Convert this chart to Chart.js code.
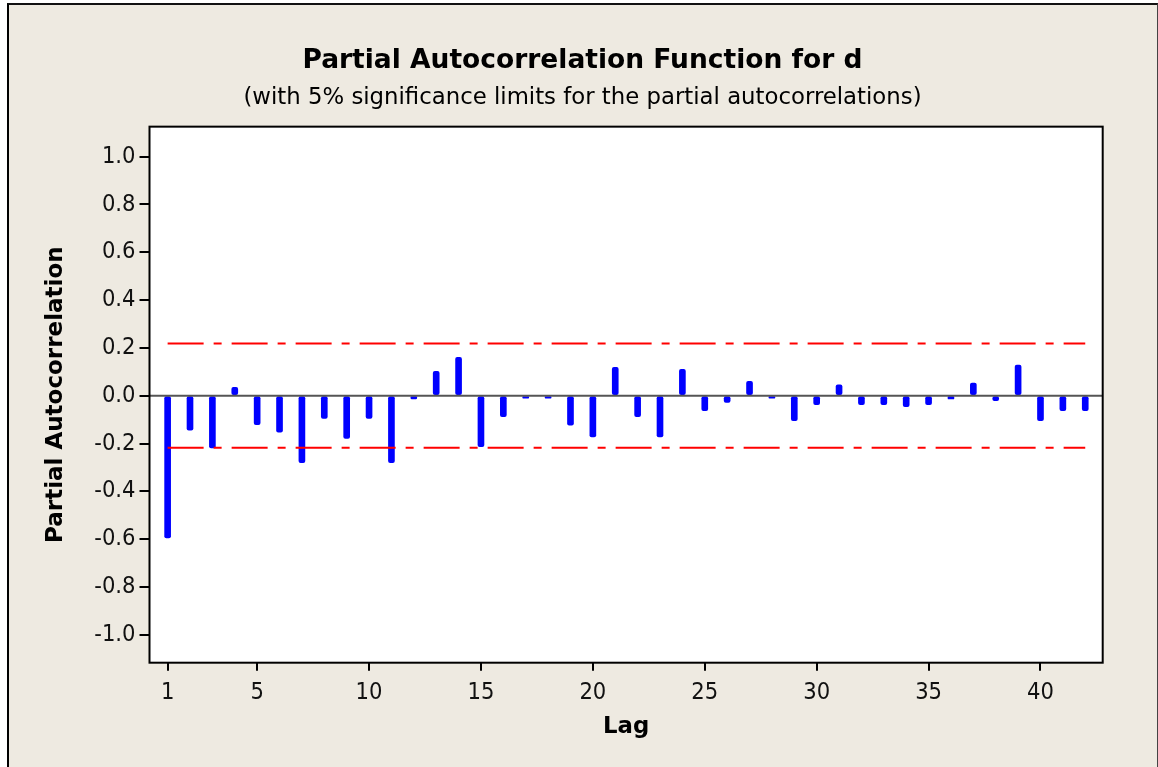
<!DOCTYPE html>
<html><head><meta charset="utf-8">
<script src="https://cdn.jsdelivr.net/npm/chart.js@4/dist/chart.umd.min.js"></script>
<style>
html,body{margin:0;padding:0;background:#fff;overflow:hidden;width:1158px;height:767px}
#frame{position:absolute;left:7px;top:3px;width:1151px;height:800px;background:#EEEAE1;border-left:2px solid #000;border-top:2px solid #111;border-right:1px solid #444;box-sizing:border-box}
#wrap{position:absolute;left:0;top:0;width:1158px;height:767px}
</style></head><body>
<div id="frame"></div>
<div id="wrap"><canvas id="c" width="1158" height="767"></canvas></div>
<script>
// ---- data ----
const lags = [1,2,3,4,5,6,7,8,9,10,11,12,13,14,15,16,17,18,19,20,21,
              22,23,24,25,26,27,28,29,30,31,32,33,34,35,36,37,38,39,40,41,42];
const pacf = [-0.595,-0.144,-0.219,0.035,-0.121,-0.153,-0.280,-0.095,-0.179,-0.095,-0.280,
              -0.013,0.102,0.160,-0.213,-0.088,-0.010,-0.010,-0.123,-0.172,0.119,
              -0.088,-0.172,0.110,-0.063,-0.028,0.060,-0.010,-0.105,-0.038,0.045,
              -0.038,-0.038,-0.046,-0.038,-0.014,0.053,-0.021,0.128,-0.105,-0.063,-0.063];
const sigLimit = 0.218;
const yTickValues = [-1.0,-0.8,-0.6,-0.4,-0.2,0.0,0.2,0.4,0.6,0.8,1.0];
const xTickValues = [1,5,10,15,20,25,30,35,40];
const titleText = "Partial Autocorrelation Function for d";
const subtitleText = "(with 5% significance limits for the partial autocorrelations)";
const xAxisTitle = "Lag";
const yAxisTitle = "Partial Autocorrelation";

const FONT = '"DejaVu Sans", sans-serif';
const TICKFONT = '"DejaVu Sans Condensed", "DejaVu Sans", sans-serif';
const firstLag = lags[0], lastLag = lags[lags.length-1];

const plotDecor = {
  id: 'plotDecor',
  beforeDatasetsDraw(chart) {
    const {ctx, chartArea: a} = chart;
    ctx.save();
    ctx.fillStyle = '#ffffff';
    ctx.fillRect(a.left, a.top, a.right - a.left, a.bottom - a.top);
    ctx.restore();
  },
  afterDatasetsDraw(chart) {
    const {ctx, chartArea: a, scales} = chart;
    const y0 = scales.y.getPixelForValue(0);
    ctx.save();
    ctx.strokeStyle = '#555555';
    ctx.lineWidth = 2;
    ctx.beginPath();
    ctx.moveTo(a.left, y0); ctx.lineTo(a.right, y0);
    ctx.stroke();
    ctx.strokeStyle = '#000';
    ctx.lineWidth = 2;
    ctx.strokeRect(a.left, a.top, a.right - a.left, a.bottom - a.top);
    ctx.restore();
  }
};

new Chart(document.getElementById('c'), {
  data: {
    datasets: [
      {
        type: 'bar',
        data: lags.map((l, i) => ({x: l, y: pacf[i]})),
        backgroundColor: '#0000ff',
        barThickness: 6,
        borderRadius: 2,
        borderSkipped: false,
        order: 2
      },
      {
        type: 'line',
        data: [{x: firstLag, y: sigLimit}, {x: lastLag, y: sigLimit}],
        borderColor: '#ff0000',
        borderWidth: 2,
        borderDash: [36, 10, 8, 10],
        pointRadius: 0,
        order: 1
      },
      {
        type: 'line',
        data: [{x: firstLag, y: -sigLimit}, {x: lastLag, y: -sigLimit}],
        borderColor: '#ff0000',
        borderWidth: 2,
        borderDash: [36, 10, 8, 10],
        pointRadius: 0,
        order: 1
      }
    ]
  },
  options: {
    responsive: false,
    animation: false,
    devicePixelRatio: 1,
    layout: {padding: {left: 7, right: 0, top: 3, bottom: 0}},
    plugins: {
      legend: {display: false},
      tooltip: {enabled: false},
      title: {
        display: true, text: titleText, color: '#000',
        font: {family: FONT, size: 26.5, weight: 'bold'},
        padding: {top: 42.2, bottom: 2}
      },
      subtitle: {
        display: true, text: subtitleText, color: '#000',
        font: {family: FONT, size: 22.8},
        padding: {top: 5.7, bottom: 14.6}
      }
    },
    scales: {
      x: {
        type: 'linear', min: 0.19, max: 42.78, offset: false,
        afterBuildTicks: s => { s.ticks = xTickValues.map(v => ({value: v})); },
        afterFit: s => { s.height = 104.3; },
        grid: {offset: false, drawOnChartArea: false, drawTicks: true, tickLength: 8, color: '#000', lineWidth: 2},
        border: {display: false},
        ticks: {color: '#111', font: {family: TICKFONT, size: 23.5}, padding: 8, maxRotation: 0, autoSkip: false},
        title: {display: true, text: xAxisTitle, color: '#000', font: {family: FONT, size: 22.8, weight: 'bold'}, padding: {top: 0, bottom: 26}}
      },
      y: {
        type: 'linear', min: -1.117, max: 1.1255,
        afterBuildTicks: s => { s.ticks = yTickValues.map(v => ({value: v})); },
        afterFit: s => { s.width = 142.5; },
        grid: {drawOnChartArea: false, drawTicks: true, tickLength: 10, color: '#000', lineWidth: 2},
        border: {display: false},
        ticks: {color: '#111', font: {family: TICKFONT, size: 23.5}, padding: 4, callback: v => v.toFixed(1)},
        title: {display: true, text: yAxisTitle, color: '#000', font: {family: FONT, size: 23, weight: 'bold'}, padding: {top: 35.4, bottom: 0}}
      },
      yRight: {
        type: 'linear', position: 'right', display: true,
        min: -1.117, max: 1.1255,
        afterFit: s => { s.width = 55.3; },
        grid: {display: false}, border: {display: false},
        ticks: {display: false}
      }
    }
  },
  plugins: [plotDecor]
});
</script>
</body></html>
